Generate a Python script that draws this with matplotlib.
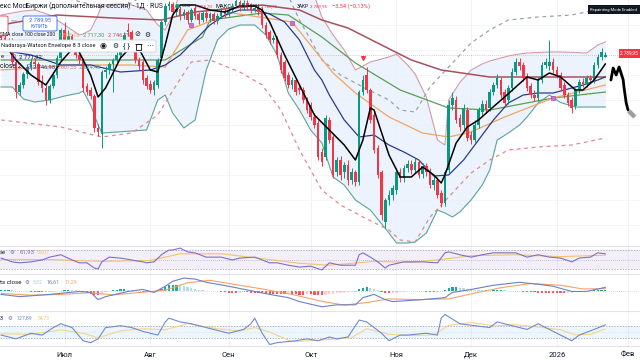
import numpy as np
import pandas as pd
import matplotlib
matplotlib.use('Agg')
import matplotlib.pyplot as plt
from matplotlib.patches import Rectangle, FancyBboxPatch

plt.rcParams['font.family'] = ['Roboto', 'DejaVu Sans']

# ---------------- data ----------------
holidays = ['2025-06-12', '2026-01-01', '2026-01-02', '2026-01-07']
dates = pd.bdate_range('2025-06-05', '2026-01-23', freq='C', holidays=holidays)
future = pd.bdate_range('2026-01-26', '2026-02-10', freq='C')

open_ = [2860,2824,2810,2820,2776,2716,2730,2752,2766,2776,2772,2736,2724,2700,2728,2750,2784,2840,2820,2828,
         2810,2790,2780,2728,2720,2708,2644,2632,2756,2760,2772,2780,2790,2810,2840,2836,2810,2780,2776,2744,
         2732,2720,2730,2784,2856,2888,2892,2876,2882,2868,2876,2860,2884,2872,2860,2874,2864,2872,2858,2868,
         2878,2872,2880,2888,2896,2884,2894,2888,2880,2884,2880,2850,2836,2820,2824,2790,2776,2750,2730,2740,
         2724,2720,2700,2690,2666,2654,2596,2586,2660,2626,2556,2580,2556,2570,2540,2556,2536,2716,2750,2720,
         2670,2604,2556,2456,2500,2510,2520,2556,2544,2564,2572,2560,2576,2552,2568,2556,2530,2540,2514,2494,
         2560,2690,2700,2664,2650,2680,2630,2620,2650,2676,2692,2684,2716,2730,2740,2716,2700,2724,2756,2776,
         2770,2748,2728,2710,2704,2740,2770,2768,2776,2760,2750,2730,2710,2700,2688,2720,2736,2732,2744,2740,
         2770,2786,2786.70]
high = [2866,2830,2824,2824,2780,2736,2756,2772,2784,2784,2776,2750,2730,2732,2756,2790,2844,2856,2840,2832,
        2816,2796,2784,2734,2726,2712,2652,2760,2768,2776,2784,2796,2816,2836,2854,2840,2812,2786,2780,2750,
        2740,2740,2784,2860,2894,2898,2896,2888,2888,2882,2880,2884,2890,2876,2878,2880,2876,2876,2874,2884,
        2884,2886,2894,2904,2900,2900,2900,2894,2890,2890,2886,2856,2840,2830,2828,2796,2780,2756,2746,2744,
        2730,2726,2706,2696,2674,2660,2604,2670,2666,2630,2586,2588,2576,2580,2564,2560,2720,2750,2766,2724,
        2676,2610,2560,2504,2520,2530,2564,2564,2570,2580,2580,2584,2580,2574,2574,2564,2548,2546,2520,2560,
        2700,2716,2708,2672,2692,2686,2638,2660,2686,2700,2700,2722,2736,2752,2746,2722,2730,2764,2784,2784,
        2776,2754,2734,2720,2746,2776,2784,2820,2784,2768,2756,2736,2716,2706,2724,2742,2744,2750,2750,2776,
        2792,2804,2795.43]
low = [2820,2804,2800,2770,2704,2710,2724,2744,2760,2764,2730,2716,2690,2694,2724,2744,2780,2814,2816,2804,
       2784,2772,2716,2710,2702,2636,2628,2604,2744,2752,2716,2774,2784,2804,2828,2808,2774,2760,2732,2722,
       2714,2710,2724,2780,2850,2880,2870,2868,2860,2862,2852,2856,2862,2852,2856,2858,2856,2852,2852,2864,
       2866,2868,2876,2884,2878,2880,2882,2874,2876,2870,2844,2824,2812,2814,2784,2754,2738,2724,2722,2710,
       2712,2694,2674,2660,2644,2580,2568,2580,2614,2544,2548,2540,2544,2530,2532,2528,2530,2710,2714,2654,
       2594,2544,2460,2444,2490,2500,2512,2536,2536,2556,2552,2554,2544,2544,2548,2524,2520,2504,2486,2488,
       2554,2680,2654,2638,2642,2618,2612,2616,2644,2668,2674,2678,2710,2724,2704,2688,2692,2718,2750,2760,
       2738,2718,2704,2698,2698,2734,2764,2760,2754,2744,2718,2704,2688,2674,2682,2714,2726,2726,2734,2734,
       2764,2780,2786.70]
close = [2824,2810,2820,2776,2716,2730,2752,2766,2776,2772,2736,2724,2700,2728,2750,2784,2840,2820,2828,2810,
         2790,2780,2724,2716,2708,2644,2636,2756,2760,2772,2780,2790,2810,2830,2836,2814,2780,2768,2740,2728,
         2720,2736,2780,2856,2888,2892,2876,2882,2868,2876,2860,2880,2868,2860,2874,2864,2872,2858,2868,2878,
         2872,2880,2888,2898,2884,2894,2888,2880,2884,2876,2850,2830,2820,2824,2790,2760,2744,2730,2740,2716,
         2720,2700,2680,2666,2650,2586,2576,2664,2620,2550,2580,2550,2570,2540,2556,2536,2716,2740,2720,2660,
         2600,2550,2470,2500,2510,2524,2556,2544,2564,2572,2560,2576,2550,2568,2556,2530,2540,2510,2494,2556,
         2690,2704,2660,2646,2684,2624,2620,2650,2680,2692,2680,2716,2730,2744,2710,2694,2724,2756,2776,2768,
         2744,2724,2710,2704,2740,2770,2776,2776,2760,2750,2724,2710,2694,2684,2720,2736,2732,2744,2740,2770,
         2786,2796,2789.95]

# overlay lines (bar index, value)
ema_i = [0,4,8,12,16,20,24,26,28,30,32,36,40,42,44,46,48,52,56,60,64,68,70,72,76,80,84,88,92,95,97,99,100,
         104,107,110,113,116,118,119,122,125,128,131,135,138,141,144,147,150,154,156,159,162]
ema_v = [2820,2780,2750,2730,2776,2810,2750,2706,2724,2754,2784,2816,2760,2756,2810,2870,2890,2890,2880,2876,
         2888,2888,2880,2856,2790,2730,2670,2640,2610,2580,2620,2684,2680,2590,2546,2546,2566,2550,2534,2550,
         2614,2646,2660,2680,2706,2726,2746,2740,2754,2746,2720,2720,2740,2772]
mid_i = [0,8,16,24,32,40,44,48,52,56,60,64,68,72,76,80,84,86,88,92,96,100,104,108,112,116,120,124,128,132,
         136,140,144,148,152,156,160,162]
mid_v = [2800,2790,2770,2770,2756,2760,2770,2790,2820,2850,2870,2880,2880,2872,2856,2820,2760,2740,2710,2660,
         2626,2630,2610,2596,2580,2548,2550,2580,2620,2660,2694,2710,2714,2714,2722,2730,2740,2746]
bb_i = [0,3,6,9,13,17,21,22,24,26,27,31,35,39,42,44,46,49,52,55,58,61,64,68,71,74,77,80,83,86,89,92,95,99,
        104,106,109,111,114,117,119,120,121,123,126,129,131,133,136,139,141,144,147,150,154,157,160,162]
bb_up = [2870,2874,2878,2880,2870,2850,2830,2832,2840,2870,2890,2892,2890,2880,2850,2840,2870,2940,2930,2900,
         2905,2908,2910,2908,2912,2940,2970,2955,2930,2866,2830,2800,2760,2776,2786,2792,2770,2752,2706,2620,
         2610,2700,2712,2735,2760,2772,2778,2782,2788,2792,2794,2795,2796,2796,2795,2794,2810,2816]
bb_lo = [2726,2726,2702,2696,2700,2708,2714,2718,2690,2650,2634,2636,2638,2640,2700,2710,2674,2644,2660,2760,
         2820,2842,2850,2850,2830,2790,2714,2680,2640,2614,2546,2530,2500,2480,2434,2414,2414,2416,2434,2480,
         2474,2470,2466,2476,2500,2530,2560,2620,2634,2650,2666,2694,2710,2695,2686,2686,2686,2686]
nwl_i = [0,16,27,35,42,47,51,56,64,70,75,80,86,91,97,104,107,111,115,121,126,131,136,144,153,162]
nwl_v = [2660,2646,2626,2634,2670,2730,2776,2780,2756,2730,2680,2600,2520,2490,2466,2440,2420,2416,2466,2514,
         2554,2580,2600,2606,2610,2624]
nwu_v = [2920,2906,2886,2894,2930,2990,3036,3040,3016,2990,2940,2860,2780,2750,2726,2700,2680,2676,2726,2774,
         2814,2840,2860,2866,2870,2884]
ma200_i = [0,15,30,43,52,70,80,86,93,102,110,118,131,148,162]
ma200_v = [2850,2870,2864,2860,2876,2890,2880,2860,2844,2810,2780,2760,2746,2746,2746]
ma100_i = [0,20,40,44,54,56,70,77,86,95,107,120,131,148,162]
ma100_v = [2780,2780,2780,2780,2826,2860,2874,2870,2826,2774,2720,2684,2680,2704,2716]
ma50_i = [0,20,35,44,50,62,78,89,95,104,113,120,126,135,148,162]
ma50_v = [2760,2770,2770,2766,2840,2874,2856,2754,2714,2666,2634,2626,2636,2666,2704,2730]

marks_i = [51, 78, 148]
marks_v = [2850, 2854, 2704]
tri_i = [97]
tri_v = [2784]
scribble_i = [163.5, 164.1, 164.9, 165.7, 166.8, 167.0, 167.6, 168.1]
scribble_v = [2740, 2764, 2750, 2766, 2740, 2726, 2694, 2680]

# RSI
rsi_i = [0,3,5,8,11,13,16,19,21,23,25,26,27,29,32,35,38,39,41,43,45,46,48,50,52,55,59,62,64,68,70,72,74,
         77,80,83,86,88,91,95,96,97,99,101,103,104,108,113,117,119,120,123,126,129,132,136,138,141,144,147,
         150,153,155,158,160,162]
rsi_v = [53,45,43,45,49,55,60,49,43,43,32,30,45,55,53,49,45,43,45,60,70,70,74,66,64,55,55,49,53,55,49,43,43,
         38,34,36,28,43,38,38,60,64,55,45,32,38,45,45,43,64,66,60,55,60,64,64,64,55,60,55,53,45,53,55,64,61.93]
rsima_i = [0,13,27,40,48,59,70,80,88,100,110,118,126,138,150,162]
rsima_v = [50,50,46,48,62,62,52,42,38,46,44,50,58,60,56,59.07]

# MACD
macd_i = [0,5,13,21,24,26,28,34,38,41,44,46,49,52,55,61,68,72,77,80,86,90,95,97,100,103,105,113,119,121,
          126,132,139,144,148,153,157,162]
macd_v = [-12,-21,-12,0,-4,-33,-21,0,8,-4,21,41,54,50,37,21,0,-12,-25,-41,-62,-54,-54,-25,-12,-33,-41,-33,
          -25,-4,8,25,37,29,21,0,0,16.61]
sig_i = [0,8,16,24,30,38,44,50,56,62,70,78,86,92,98,104,112,120,126,134,142,150,156,162]
sig_v = [-8,-15,-12,-5,-14,-3,5,35,45,30,10,-12,-40,-55,-45,-30,-33,-30,-10,15,32,25,10,11.29]
hist = [4,5,5,4,3,2,1,0,
        -2,-3,-4,-4,-3,-2,-1,
        1,3,5,6,5,4,
        -1,-3,-6,-10,-14,-16,-10,
        -4,2,5,7,8,8,7,6,5,
        2,-1,-3,-4,-2,
        3,10,18,25,28,28,26,22,18,
        14,10,7,5,3,2,1,0,
        -2,-3,-5,-6,-6,-5,-4,-4,-5,-6,-7,-8,
        -9,-10,-11,-12,-12,-12,-11,-11,-12,-13,-13,-12,-12,-13,-14,-15,
        -14,-12,-10,-8,-6,-5,-3,-2,-1,
        8,14,16,14,10,5,
        -2,-6,-8,-7,-5,
        -2,-1,1,2,2,1,0,
        -1,-2,-2,-1,
        2,6,12,16,17,15,12,10,
        8,6,5,4,4,3,
        4,5,5,4,3,2,
        1,0,-1,-2,
        -3,-4,-5,-6,-6,-7,-7,-8,-8,-8,-7,-6,
        -4,-2,0,2,3,4,5,5,5.32]

# CCI
cci_i = [0,4,8,11,14,16,19,22,24,26,28,32,35,38,42,44,45,48,51,55,59,61,65,67,68,70,72,74,79,82,85,88,90,
         93,95,96,98,102,104,107,109,114,117,118,119,123,127,131,133,137,141,144,147,150,153,155,159,162]
cci_v = [-53,-120,-20,-53,80,147,80,-153,-187,-120,80,113,80,13,-53,180,247,180,147,80,13,-20,47,147,247,
         -20,-220,-187,-153,-120,-153,-87,-120,-87,113,213,180,-20,-153,-53,-53,-20,-53,247,313,147,113,80,
         180,113,47,147,47,-53,-153,-53,47,127.89]
ccima_i = [0,8,16,22,26,32,38,44,50,58,64,68,72,78,86,94,98,104,110,116,120,126,132,138,144,150,154,158,162]
ccima_v = [-30,-40,40,-20,-100,20,60,40,150,60,20,80,0,-170,-140,-100,60,-40,-60,-50,120,170,110,130,90,40,
           -50,-40,54.73]

month_names = {7: 'Июл', 8: 'Авг', 9: 'Сен', 10: 'Окт', 11: 'Ноя', 12: 'Дек', 1: '2026', 2: 'Фев'}

# ---------------- figure ----------------
W, H = 640, 360
fig = plt.figure(figsize=(6.4, 3.6), dpi=100)
fig.patch.set_facecolor('white')

def ax_at(top, bottom):
    a = fig.add_axes([0, 1 - bottom / H, 1, (bottom - top) / H])
    a.set_facecolor('none')
    for s in a.spines.values():
        s.set_visible(False)
    return a

ax = ax_at(0, 246)
ax_rsi = ax_at(246, 274)
ax_macd = ax_at(274, 311)
ax_cci = ax_at(311, 346)
axes = [ax, ax_rsi, ax_macd, ax_cci]

n = len(close)
idx = np.arange(n)
all_dates = list(dates[:n]) + list(future)
tick_pos, tick_lab = [], []
for k in range(1, len(all_dates)):
    if all_dates[k].month != all_dates[k - 1].month:
        tick_pos.append(k)
        tick_lab.append(month_names[all_dates[k].month])

XL = (-0.3, 171.3)
for a in axes:
    a.set_xlim(*XL)
    a.set_xticks(tick_pos)
    a.tick_params(axis='both', length=0, labelbottom=False, labelleft=False)
    a.grid(axis='x', color='#eef0f5', lw=0.6)
    a.set_axisbelow(True)
for a in [ax_rsi, ax_macd, ax_cci]:
    a.spines['top'].set_visible(True)
    a.spines['top'].set_color('#e0e3eb')
    a.spines['top'].set_linewidth(0.8)
ax_cci.spines['bottom'].set_visible(True)
ax_cci.spines['bottom'].set_color('#e0e3eb')
ax_cci.tick_params(labelbottom=True, pad=4, labelsize=5.5, labelcolor='#131722')
ax_cci.set_xticklabels(tick_lab)

# ---- main panel ----
ax.set_ylim(2408, 2900)
ax.set_yticks(np.arange(2450, 2900, 50))
ax.grid(axis='y', color='#f3f4f7', lw=0.6)

ax.fill_between(bb_i, bb_lo, bb_up, color='#e6f0fb', alpha=0.75, lw=0, zorder=1)
ax.plot(bb_i, bb_up, color='#d49aa8', lw=0.8, zorder=2)
ax.plot(bb_i, bb_lo, color='#5fa39c', lw=0.8, zorder=2)

ax.plot(nwl_i, nwl_v, color='#e0898f', lw=0.9, ls=(0, (3, 3)), zorder=2)
ax.plot(nwl_i, nwu_v, color='#9aa3a8', lw=0.9, ls=(0, (3, 3)), zorder=2)

ax.plot(ma200_i, ma200_v, color='#a8505c', lw=1.1, zorder=2)
ax.plot(ma100_i, ma100_v, color='#5c9e55', lw=0.9, zorder=2)
ax.plot(ma50_i, ma50_v, color='#f2a462', lw=0.9, zorder=2)
ax.plot(mid_i, mid_v, color='#2b3a8c', lw=0.9, zorder=3)

o = np.array(open_); c = np.array(close); hi = np.array(high); lo = np.array(low)
up = c >= o
col = np.where(up, '#089981', '#f23645')
ax.vlines(idx, lo, hi, colors=col, lw=0.7, zorder=4)
body = np.maximum(np.abs(c - o), 1.2)
ax.bar(idx, body, bottom=np.minimum(o, c), width=0.7, color=col, lw=0, zorder=5)

ax.plot(ema_i, ema_v, color='#000000', lw=1.1, zorder=6)

ax.scatter(marks_i, marks_v, marker='s', s=9, color='#d36ad8', edgecolor='#9c3aa8', lw=0.4, zorder=7)
ax.scatter(tri_i, tri_v, marker='v', s=7, color='#f23645', zorder=7)

ax.axhline(close[-1], color='#f23645', lw=0.5, ls=(0, (1, 2)), alpha=0.6, zorder=1)

ax.plot(scribble_i, scribble_v, color='#000000', lw=2.0, solid_capstyle='round',
        solid_joinstyle='round', zorder=8)
ax.plot([scribble_i[-1] + 0.2, scribble_i[-1] + 1.8], [scribble_v[-1] - 2, scribble_v[-1] - 14],
        color='#9e9e9e', lw=3.2, solid_capstyle='butt', zorder=8)

# ---- RSI ----
ax_rsi.set_ylim(19.5, 78.4)
ax_rsi.axhspan(30, 70, color='#7e57c2', alpha=0.09, lw=0)
for lv, ls in [(70, (0, (2, 2))), (50, (0, (1, 2))), (30, (0, (2, 2)))]:
    ax_rsi.axhline(lv, color='#9598a1', lw=0.5, ls=ls)
ax_rsi.plot(rsima_i, rsima_v, color='#f5c26b', lw=0.8)
ax_rsi.plot(rsi_i, rsi_v, color='#7e6fc9', lw=0.8)

# ---- MACD ----
ax_macd.set_ylim(-79, 70.5)
ax_macd.axhline(0, color='#b2b5be', lw=0.5, ls=(0, (1, 2)))
hv = np.array(hist)
hcol = []
for k in range(n):
    prev = hv[k - 1] if k > 0 else 0
    if hv[k] >= 0:
        hcol.append('#26a69a' if hv[k] >= prev else '#b2dfdb')
    else:
        hcol.append('#ff5252' if hv[k] <= prev else '#ffcdd2')
ax_macd.bar(idx, hv, width=0.6, color=hcol, lw=0)
ax_macd.plot(sig_i, sig_v, color='#f5a26b', lw=0.8)
ax_macd.plot(macd_i, macd_v, color='#6d7fc9', lw=0.8)

# ---- CCI ----
ax_cci.set_ylim(-246, 373)
ax_cci.axhspan(-100, 100, color='#2196f3', alpha=0.08, lw=0)
for lv in (100, -100):
    ax_cci.axhline(lv, color='#9598a1', lw=0.5, ls=(0, (2, 2)))
ax_cci.axhline(0, color='#c8cbd3', lw=0.4, ls=(0, (1, 2)))
ax_cci.plot(ccima_i, ccima_v, color='#f5d38b', lw=0.8)
ax_cci.plot(cci_i, cci_v, color='#6d8ccf', lw=0.8)

# ---------------- texts ----------------
fig.canvas.draw()
renderer = fig.canvas.get_renderer()

def TF(x0, x1, y, s, color='#131722', base=6.0, **kw):
    t = fig.text(x0 / W, 1 - y / H, s, fontsize=base, color=color, va='center', **kw)
    w = t.get_window_extent(renderer).width
    if w > 0:
        t.set_fontsize(base * (x1 - x0) / w)
    return t

def box(x0, y0, x1, y1, fc, ec, lw=0.6, r=0.004):
    fig.patches.append(FancyBboxPatch((x0 / W, 1 - y1 / H), (x1 - x0) / W, (y1 - y0) / H,
                                      boxstyle='round,pad=0,rounding_size=%g' % r,
                                      transform=fig.transFigure, fc=fc, ec=ec, lw=lw))

RED = '#f23645'
GEAR = '#7e57c2'
TF(0, 165, 6, 'екс МосБиржи (дополнительная сессия) · 1Д · RUS')
TF(175, 180, 6, '●', color='#089981')
hdr = [(182, 193, 'ОТКР', '#131722'), (195, 212, '2 786,70', RED), (215, 231, 'МАКС', '#131722'),
       (232, 248, '2 795,43', RED), (250, 260, 'МИН', '#131722'), (261, 277, '2 786,70', RED),
       (297, 309, 'ЗАКР', '#131722'), (310, 327, '2 789,95', RED), (332, 370, '−3,54 (−0,13%)', RED)]
for x0, x1, s, cl in hdr:
    TF(x0, x1, 6, s, color=cl)

# sell / buy boxes
box(-30, 16, 8, 36, 'white', RED)
TF(11, 18, 22, '2.00', color='#787b86')
box(23, 16, 57, 31, 'white', '#2962ff')
TF(29, 51, 20.5, '2 789,95', color='#2962ff')
TF(31, 49, 27, 'КУПИТЬ', color='#2962ff')

TF(0, 56, 35, 'SMA close 100 close 200')
TF(58, 80, 35, '2 808,16', color='#f2a462')
TF(83, 105, 35, '2 717,30', color='#5c9e55')
TF(108, 130, 35, '2 746,75', color='#c0505f')
TF(134, 140, 35, '⊘')
TF(144, 150, 35, '⚙')

box(-2, 40, 156, 52, 'white', '#d1d4dc')
TF(1, 97, 46, 'Nadaraya-Watson Envelope 8 3 close')
TF(100, 107, 46, '◉')
TF(112, 118, 46, '⚙')
TF(123, 130, 46, '{ }')
# trash-can icon (no installed glyph): small drawn shape
fig.patches.append(Rectangle((136 / W, 1 - 49.5 / H), 4.5 / W, 5.5 / H, transform=fig.transFigure,
                             fc='none', ec='#131722', lw=0.6))
fig.patches.append(Rectangle((135 / W, 1 - 43.6 / H), 6.5 / W, 0.1 / H, transform=fig.transFigure,
                             fc='none', ec='#131722', lw=0.6))
TF(146, 153, 46, '⋯')

TF(1, 4, 57, 'e')
TF(10, 16, 57, '⚙', color=GEAR)
TF(19, 42, 57, '2 771,92', color='#131722')
TF(0, 22, 67, 'close 2')
TF(25, 31, 67, '⚙', color=GEAR)
TF(33, 55, 67, '2 746,98', color='#2b3a8c')
TF(57, 77, 67, '2 807,55', color='#d0707f')
TF(79, 100, 67, '2 684,40', color='#4f9a93')

# repainting label & price tag
fig.patches.append(Rectangle((588 / W, 1 - 14 / H), 60 / W, 9 / H, transform=fig.transFigure,
                             fc='#131722', ec='none'))
TF(590, 637, 9.5, 'Repainting Mode Enabled', color='white')
fig.patches.append(Rectangle((619 / W, 1 - 58 / H), 22 / W, 9 / H, transform=fig.transFigure,
                             fc=RED, ec='none'))
TF(620, 638, 53.5, '2 789,95', color='white')

# indicator legends
TF(0, 6, 252, 'se')
TF(10, 15, 252, '⚙', color=GEAR)
TF(20, 35, 252, '61,93', color='#7e6fc9')
TF(37, 50, 252, '59,07', color='#f5c26b')
TF(0, 22, 282, 'ts close')
TF(25, 30, 282, '⚙', color=GEAR)
TF(33, 43, 282, '5,32', color='#9fd3cc')
TF(47, 60, 282, '16,61', color='#6d7fc9')
TF(65, 78, 282, '11,29', color='#f5a26b')
TF(0, 3, 318, '3')
TF(8, 13, 318, '⚙', color=GEAR)
TF(17, 33, 318, '127,89', color='#6d8ccf')
TF(38, 50, 318, '54,73', color='#f5c26b')

fig.savefig('out.png', dpi=100)
